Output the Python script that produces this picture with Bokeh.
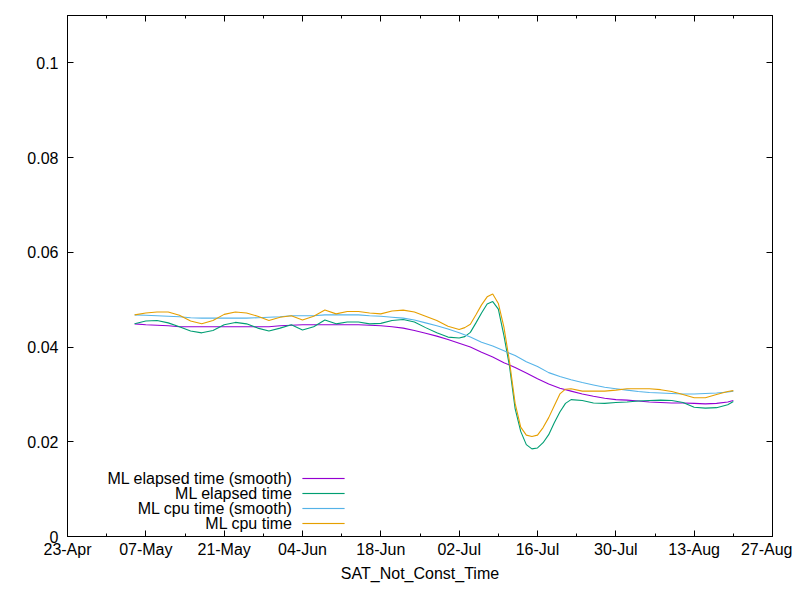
import calendar
from datetime import datetime
from bokeh.plotting import figure
from bokeh.models import (FixedTicker, LinearAxis, DatetimeAxis, Range1d,
                          Label, BoxAnnotation, ColumnDataSource)
from bokeh.embed import file_html
from bokeh.resources import INLINE

# ---------------- data ----------------
# dates of the smoothed series (every 2 days)
dates_smooth = [
    "2024-05-05", "2024-05-07", "2024-05-09", "2024-05-11", "2024-05-13",
    "2024-05-15", "2024-05-17", "2024-05-19", "2024-05-21", "2024-05-23",
    "2024-05-25", "2024-05-27", "2024-05-29", "2024-05-31",
    "2024-06-02", "2024-06-04", "2024-06-06", "2024-06-08", "2024-06-10",
    "2024-06-12", "2024-06-14", "2024-06-16", "2024-06-18", "2024-06-20",
    "2024-06-22", "2024-06-24", "2024-06-26", "2024-06-28", "2024-06-30",
    "2024-07-02", "2024-07-04", "2024-07-06", "2024-07-08", "2024-07-10",
    "2024-07-12", "2024-07-14", "2024-07-16", "2024-07-18", "2024-07-20",
    "2024-07-22", "2024-07-24", "2024-07-26", "2024-07-28", "2024-07-30",
    "2024-08-01", "2024-08-03", "2024-08-05", "2024-08-07", "2024-08-09",
    "2024-08-11", "2024-08-13", "2024-08-15", "2024-08-17", "2024-08-19",
    "2024-08-20",
]

# dates of the raw series (daily through the July spike)
dates_raw = [
    "2024-05-05", "2024-05-07", "2024-05-09", "2024-05-11", "2024-05-13",
    "2024-05-15", "2024-05-17", "2024-05-19", "2024-05-21", "2024-05-23",
    "2024-05-25", "2024-05-27", "2024-05-29", "2024-05-31",
    "2024-06-02", "2024-06-04", "2024-06-06", "2024-06-08", "2024-06-10",
    "2024-06-12", "2024-06-14", "2024-06-16", "2024-06-18", "2024-06-20",
    "2024-06-22", "2024-06-24", "2024-06-26", "2024-06-28", "2024-06-30",
    "2024-07-02", "2024-07-03", "2024-07-04", "2024-07-05", "2024-07-06",
    "2024-07-07", "2024-07-08", "2024-07-09", "2024-07-10", "2024-07-11",
    "2024-07-12", "2024-07-13", "2024-07-14", "2024-07-15", "2024-07-16",
    "2024-07-17", "2024-07-18", "2024-07-19", "2024-07-20", "2024-07-21",
    "2024-07-22",
    "2024-07-24", "2024-07-26", "2024-07-28", "2024-07-30",
    "2024-08-01", "2024-08-03", "2024-08-05", "2024-08-07", "2024-08-09",
    "2024-08-11", "2024-08-13", "2024-08-15", "2024-08-17", "2024-08-19",
    "2024-08-20",
]

ml_elapsed_smooth = [
    0.0449, 0.0447, 0.0446, 0.0445, 0.0443, 0.0443, 0.0443, 0.0443, 0.0443, 0.0443,
    0.0443, 0.0443, 0.0443, 0.0445, 0.0446, 0.0447, 0.0447, 0.0447, 0.0447, 0.0447,
    0.0447, 0.0446, 0.0445, 0.0443, 0.0440, 0.0435, 0.0429, 0.0423, 0.0416, 0.0408,
    0.0400, 0.0389, 0.0379, 0.0367, 0.0357, 0.0345, 0.0333, 0.0322, 0.0313, 0.0307,
    0.0301, 0.0296, 0.0292, 0.0289, 0.0288, 0.0286, 0.0284, 0.0283, 0.0282, 0.0282,
    0.0281, 0.0280, 0.0281, 0.0284, 0.0287,
]

ml_elapsed = [
    0.0449, 0.0455, 0.0456, 0.0451, 0.0443, 0.0434, 0.0430, 0.0435, 0.0447, 0.0452,
    0.0449, 0.0440, 0.0434, 0.0440, 0.0447, 0.0436, 0.0443, 0.0457, 0.0449, 0.0453,
    0.0453, 0.0449, 0.0450, 0.0456, 0.0458, 0.0453, 0.0441, 0.0430, 0.0421,
    0.0419, 0.0422, 0.0431, 0.0451, 0.0472, 0.0491, 0.0496, 0.0480, 0.0424, 0.0359,
    0.0270, 0.0222, 0.0194, 0.0185, 0.0187, 0.0198, 0.0215, 0.0240, 0.0263, 0.0281,
    0.0289,
    0.0287, 0.0282, 0.0281, 0.0283, 0.0284, 0.0286, 0.0287, 0.0288, 0.0287, 0.0283,
    0.0273, 0.0271, 0.0272, 0.0278, 0.0285,
]

ml_cpu_smooth = [
    0.0468, 0.0467, 0.0466, 0.0465, 0.0464, 0.0462, 0.0461, 0.0461, 0.0461, 0.0461,
    0.0461, 0.0462, 0.0463, 0.0464, 0.0466, 0.0466, 0.0466, 0.0468, 0.0468, 0.0468,
    0.0468, 0.0466, 0.0465, 0.0463, 0.0461, 0.0457, 0.0451, 0.0445, 0.0438, 0.0430,
    0.0421, 0.0410, 0.0402, 0.0392, 0.0382, 0.0369, 0.0359, 0.0346, 0.0338, 0.0331,
    0.0325, 0.0320, 0.0315, 0.0312, 0.0309, 0.0306, 0.0304, 0.0303, 0.0302, 0.0301,
    0.0301, 0.0302, 0.0303, 0.0305, 0.0307,
]

ml_cpu = [
    0.0468, 0.0472, 0.0474, 0.0474, 0.0467, 0.0455, 0.0449, 0.0456, 0.0469, 0.0474,
    0.0472, 0.0465, 0.0456, 0.0463, 0.0466, 0.0457, 0.0465, 0.0478, 0.0470, 0.0475,
    0.0475, 0.0472, 0.0470, 0.0476, 0.0478, 0.0474, 0.0465, 0.0456, 0.0444,
    0.0437, 0.0441, 0.0448, 0.0468, 0.0489, 0.0506, 0.0512, 0.0492, 0.0442, 0.0369,
    0.0281, 0.0231, 0.0214, 0.0211, 0.0214, 0.0230, 0.0251, 0.0276, 0.0301, 0.0311,
    0.0312,
    0.0307, 0.0307, 0.0307, 0.0309, 0.0312, 0.0312, 0.0312, 0.0310, 0.0306, 0.0300,
    0.0293, 0.0293, 0.0300, 0.0306, 0.0308,
]

series_labels = ["ML elapsed time (smooth)", "ML elapsed time",
                 "ML cpu time (smooth)", "ML cpu time"]
series_colors = ["#9400d3", "#009e73", "#56b4e9", "#e69f00"]

x_tick_dates = ["2024-04-23", "2024-05-07", "2024-05-21", "2024-06-04",
                "2024-06-18", "2024-07-02", "2024-07-16", "2024-07-30",
                "2024-08-13", "2024-08-27"]
x_tick_labels = ["23-Apr", "07-May", "21-May", "04-Jun", "18-Jun",
                 "02-Jul", "16-Jul", "30-Jul", "13-Aug", "27-Aug"]
x_minor_dates = ["2024-04-30", "2024-05-14", "2024-05-28", "2024-06-11",
                 "2024-06-25", "2024-07-09", "2024-07-23", "2024-08-06",
                 "2024-08-20"]
y_ticks = [0, 0.02, 0.04, 0.06, 0.08, 0.1]
y_tick_labels = ["0", "0.02", "0.04", "0.06", "0.08", "0.1"]
x_label = "SAT_Not_Const_Time"

# ---------------- helpers ----------------
def ms(s):
    return calendar.timegm(datetime.strptime(s, "%Y-%m-%d").timetuple()) * 1000.0

xs_smooth = [ms(d) for d in dates_smooth]
xs_raw = [ms(d) for d in dates_raw]
x_ticks_ms = [ms(d) for d in x_tick_dates]
x_minor_ms = [ms(d) for d in x_minor_dates]

FONT = "Liberation Sans"

p = figure(frame_width=705, frame_height=521, x_axis_type="datetime",
           output_backend="svg", toolbar_location=None,
           x_range=Range1d(x_ticks_ms[0], x_ticks_ms[-1]),
           y_range=Range1d(0, 0.11),
           min_border_left=67, min_border_right=20,
           min_border_top=15, min_border_bottom=56)
p.background_fill_color = "white"
p.border_fill_color = "white"
p.outline_line_color = "black"
p.outline_line_width = 1
p.xgrid.visible = False
p.ygrid.visible = False

src_s = ColumnDataSource(dict(x=xs_smooth, a=ml_elapsed_smooth, c=ml_cpu_smooth))
src_r = ColumnDataSource(dict(x=xs_raw, b=ml_elapsed, d=ml_cpu))
plot_order = [(src_s, "a"), (src_r, "b"), (src_s, "c"), (src_r, "d")]
for (src, col), color in zip(plot_order, series_colors):
    p.line("x", col, source=src, line_color=color, line_width=1.1)

xt = FixedTicker(ticks=x_ticks_ms, minor_ticks=x_minor_ms)
yt = FixedTicker(ticks=y_ticks, minor_ticks=[])

def style_axis(ax, show_labels):
    ax.axis_line_color = "black"
    ax.major_tick_line_color = "black"
    ax.minor_tick_line_color = "black"
    ax.major_tick_in = 6
    ax.major_tick_out = 0
    ax.minor_tick_in = 3
    ax.minor_tick_out = 0
    ax.major_label_text_font = FONT
    ax.major_label_text_font_size = "16px"
    ax.major_label_text_color = "black"
    if not show_labels:
        ax.major_label_text_alpha = 0
        ax.major_label_text_font_size = "1px"

xa = p.xaxis[0]
xa.ticker = xt
xa.major_label_overrides = {t: l for t, l in zip(x_ticks_ms, x_tick_labels)}
style_axis(xa, True)
xa.major_label_standoff = 4
xa.axis_label = x_label
xa.axis_label_text_font = FONT
xa.axis_label_text_font_size = "16px"
xa.axis_label_text_font_style = "normal"
xa.axis_label_text_color = "black"
xa.axis_label_standoff = 4

ya = p.yaxis[0]
ya.ticker = yt
ya.major_label_overrides = {t: l for t, l in zip(y_ticks, y_tick_labels)}
style_axis(ya, True)
ya.major_label_standoff = 9

top = DatetimeAxis(ticker=FixedTicker(ticks=x_ticks_ms, minor_ticks=x_minor_ms))
style_axis(top, False)
top.major_label_standoff = 0
p.add_layout(top, "above")
right = LinearAxis(ticker=FixedTicker(ticks=y_ticks, minor_ticks=[]))
style_axis(right, False)
right.major_label_standoff = 0
p.add_layout(right, "right")

# gnuplot-style key: right-aligned text with sample line to its right
row_y = [58, 43, 28, 13]
for lab, color, yy in zip(series_labels, series_colors, row_y):
    p.add_layout(Label(x=225, y=yy, x_units="screen", y_units="screen",
                       text=lab, text_align="right", text_baseline="middle",
                       text_font=FONT, text_font_size="16px",
                       text_color="black"))
    p.add_layout(BoxAnnotation(left=235, right=277, bottom=yy - 0.5, top=yy + 0.5,
                               left_units="screen", right_units="screen",
                               bottom_units="screen", top_units="screen",
                               fill_color=color, fill_alpha=1.0,
                               line_color=color, line_width=0.5))

open("out.html", "w").write(file_html(p, INLINE))
